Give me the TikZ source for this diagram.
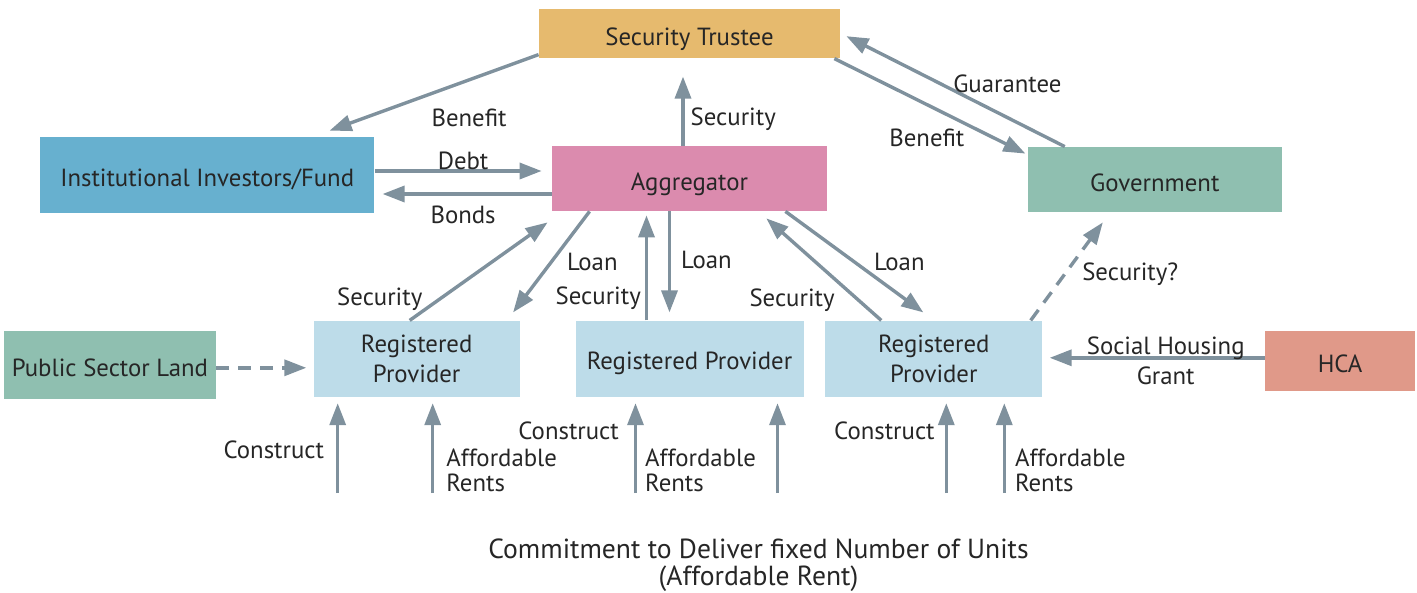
\documentclass[tikz,border=0pt]{standalone}
\usepackage{fontspec}
\setmainfont{PT Sans}
\usetikzlibrary{arrows.meta, positioning}

\definecolor{trusteegold}{RGB}{230,186,110}
\definecolor{investblue}{RGB}{103,176,207}
\definecolor{aggpink}{RGB}{219,139,174}
\definecolor{govgreen}{RGB}{143,191,176}
\definecolor{rpblue}{RGB}{189,220,233}
\definecolor{hcared}{RGB}{224,153,137}
\definecolor{flowgrey}{RGB}{127,145,157}

\begin{document}
\begin{tikzpicture}[
    font=\fontsize{12.4}{15}\selectfont,
    text=black!85,
    node distance=10mm and 10mm,
    party/.style={
        minimum height=32.5pt, align=center, inner sep=2pt,
        text height=12pt, text depth=0pt
    },
    provider/.style={
        minimum height=38pt, align=center, inner sep=2pt, fill=rpblue
    },
    arrow/.style={
        -{Triangle[length=11pt, width=8pt]}, line width=1.7pt, draw=flowgrey
    },
    dasharrow/.style={
        arrow, dash pattern=on 6.5pt off 4.5pt
    },
    arrowlabel/.style={
        inner sep=1pt
    },
    rentlabel/.style={
        arrowlabel, align=left, font=\fontsize{12.4}{12.5}\selectfont
    }
]
\useasboundingbox (-344.75pt,-207.25pt) rectangle (363.75pt,89.25pt);

% --- aggregator in the middle, everything else around it ---
\node[party, fill=aggpink, minimum width=137.5pt] (agg) {Aggregator};
\node[party, fill=trusteegold, minimum width=150.5pt, minimum height=24.5pt,
      above=43.5pt of agg] (trustee) {Security Trustee};
\node[party, fill=investblue, minimum width=167pt, minimum height=38pt,
      left=88.5pt of agg, yshift=1.75pt] (inv) {Institutional Investors/Fund};
\node[party, fill=govgreen, minimum width=127pt,
      right=100pt of agg, yshift=-0.5pt] (gov) {Government};

% --- registered providers row ---
\node[provider, minimum width=114pt, text height=10.5pt, text depth=0pt,
      below=54.5pt of agg] (rp2) {Registered Provider};
\node[provider, minimum width=103pt, left=27.5pt of rp2]   (rp1) {Registered\\Provider};
\node[provider, minimum width=108.5pt, right=10.5pt of rp2] (rp3) {Registered\\Provider};
\node[party, fill=govgreen, minimum width=106pt, minimum height=34pt,
      left=48.5pt of rp1, yshift=-3pt] (land) {Public Sector Land};
\node[party, fill=hcared, minimum width=75pt, minimum height=30pt,
      right=111pt of rp3, yshift=-1pt] (hca) {HCA};

% --- bottom note ---
\node[align=center, inner sep=2pt, font=\fontsize{13.8}{13.5}\selectfont,
      below=68.5pt of rp2, xshift=34.5pt] (commit)
  {Commitment to Deliver fixed Number of Units\\(Affordable Rent)};

% --- trustee links ---
\draw[arrow] ([yshift=2pt]trustee.south west) -- ([xshift=-22.5pt, yshift=3pt]inv.north east)
  node[arrowlabel, pos=0.53, below right, yshift=-5pt]{Benefit};
\draw[arrow] ([xshift=-3pt]trustee.south east) -- ([xshift=-1pt, yshift=-3.5pt]gov.north west)
  node[arrowlabel, pos=0.7, below left]{Benefit};
\draw[arrow] ([xshift=-45pt]gov.north) -- ([xshift=3pt, yshift=-1.25pt]trustee.east)
  node[arrowlabel, pos=0.5, above right, xshift=-3pt, yshift=-2.5pt]{Guarantee};
\draw[arrow, shorten >=9pt] ([xshift=-3.25pt]agg.north) -- ([xshift=-3.25pt]agg.north |- trustee.south)
  node[arrowlabel, pos=0.3, right=2pt]{Security};

% --- investors <-> aggregator ---
\draw[arrow, shorten >=5pt] ([yshift=2pt]inv.east) -- ([yshift=2pt]inv.east -| agg.west)
  node[arrowlabel, midway, above, inner sep=0pt]{Debt};
\draw[arrow, shorten >=4pt] ([yshift=-7.75pt]agg.west) -- ([yshift=-7.75pt]agg.west -| inv.east)
  node[arrowlabel, midway, below=4pt]{Bonds};

% --- aggregator <-> providers ---
\draw[arrow] ([xshift=19pt]agg.south west) -- ([xshift=-3.5pt, yshift=4pt]rp1.north east)
  node[arrowlabel, midway, right=6pt]{Loan};
\draw[arrow] ([xshift=-3.5pt]rp1.north) -- ([xshift=-2pt, yshift=-5.5pt]agg.south west)
  node[arrowlabel, pos=0.22, left=7pt]{Security};
\draw[arrow, shorten >=4pt] ([xshift=-10pt]agg.south) -- ([xshift=-10pt]agg.south |- rp2.north)
  node[arrowlabel, pos=0.45, right=4pt]{Loan};
\draw[arrow, shorten >=2pt] ([xshift=-21.5pt]rp2.north) -- ([xshift=-21.5pt]rp2.north |- agg.south)
  node[arrowlabel, pos=0.2, left=1pt]{Security};
\draw[arrow] ([xshift=-21pt]agg.south east) -- ([xshift=-5.25pt, yshift=4pt]rp3.north)
  node[arrowlabel, midway, right=8pt]{Loan};
\draw[arrow] ([xshift=-26.25pt]rp3.north) -- ([xshift=-30.5pt, yshift=-3.5pt]agg.south east)
  node[arrowlabel, pos=0.2, left=10pt]{Security};

% --- side inputs ---
\draw[dasharrow] ([xshift=-6pt]rp3.north east) -- ([xshift=-26pt, yshift=-5pt]gov.south)
  node[arrowlabel, pos=0.47, right=7pt]{Security?};
\draw[dasharrow, shorten >=3.5pt] ([yshift=-1.5pt]land.east) -- ([yshift=-1.5pt]land.east -| rp1.west);
\draw[arrow, shorten >=3.5pt] ([yshift=1.5pt]hca.west) -- ([yshift=1.5pt]hca.west -| rp3.east)
  node[arrowlabel, midway, xshift=6pt, yshift=-1.5pt, align=center]{Social Housing\\Grant};

% --- construct / rent feeds under each provider ---
\foreach \rp/\dx/\tag in {rp1/-39.5pt/a, rp1/8pt/b, rp2/-27pt/a, rp2/44pt/b, rp3/6.25pt/a, rp3/35.25pt/b}
  \coordinate (\rp\tag) at ([xshift=\dx, yshift=-48pt]\rp.south);

\draw[arrow, shorten >=3pt] (rp1a) -- (rp1a |- rp1.south)
  node[arrowlabel, pos=0.45, left=5pt]{Construct};
\draw[arrow, shorten >=3pt] (rp1b) -- (rp1b |- rp1.south)
  node[rentlabel, pos=0.24, right=5pt]{Affordable\\Rents};
\draw[arrow, shorten >=3pt] (rp2a) -- (rp2a |- rp2.south)
  node[arrowlabel, pos=0.65, left=6.5pt]{Construct}
  node[rentlabel, pos=0.24, right=3pt]{Affordable\\Rents};
\draw[arrow, shorten >=3pt] (rp2b) -- (rp2b |- rp2.south);
\draw[arrow, shorten >=3pt] (rp3a) -- (rp3a |- rp3.south)
  node[arrowlabel, pos=0.65, left=4pt]{Construct};
\draw[arrow, shorten >=3pt] (rp3b) -- (rp3b |- rp3.south)
  node[rentlabel, pos=0.24, right=3.5pt]{Affordable\\Rents};

\end{tikzpicture}
\end{document}
